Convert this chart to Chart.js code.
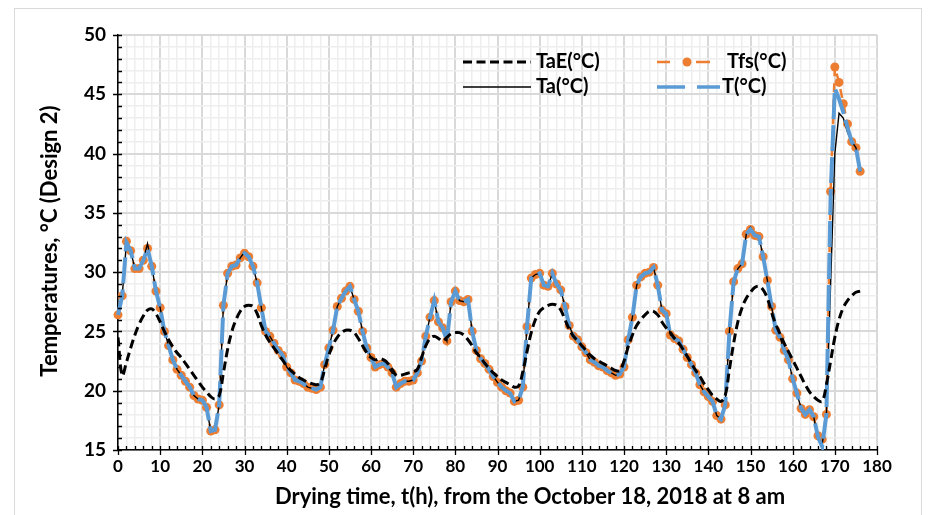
<!DOCTYPE html>
<html>
<head>
<meta charset="utf-8">
<script src="https://cdn.jsdelivr.net/npm/chart.js@4"></script>
<style>
  html, body { margin: 0; padding: 0; background: #fff; }
  #wrap { position: relative; width: 929px; height: 515px; overflow: hidden; }
  #frame { position: absolute; left: 14px; top: 8px; width: 906px; height: 530px; border: 1px solid #d9d9d9; }
  #chart { position: absolute; left: 0; top: 0; }
</style>
</head>
<body>
<div id="wrap">
  <div id="frame"></div>
  <canvas id="chart" width="929" height="515"></canvas>
</div>
<script>
// Drying time in hours (hourly readings)
const hours = [
  0, 1, 2, 3, 4, 5, 6, 7, 8, 9, 10, 11, 12, 13, 14, 15, 16, 17, 18, 19,
  20, 21, 22, 23, 24, 25, 26, 27, 28, 29, 30, 31, 32, 33, 34, 35, 36, 37, 38, 39,
  40, 41, 42, 43, 44, 45, 46, 47, 48, 49, 50, 51, 52, 53, 54, 55, 56, 57, 58, 59,
  60, 61, 62, 63, 64, 65, 66, 67, 68, 69, 70, 71, 72, 73, 74, 75, 76, 77, 78, 79,
  80, 81, 82, 83, 84, 85, 86, 87, 88, 89, 90, 91, 92, 93, 94, 95, 96, 97, 98, 99,
  100, 101, 102, 103, 104, 105, 106, 107, 108, 109, 110, 111, 112, 113, 114, 115, 116, 117, 118, 119,
  120, 121, 122, 123, 124, 125, 126, 127, 128, 129, 130, 131, 132, 133, 134, 135, 136, 137, 138, 139,
  140, 141, 142, 143, 144, 145, 146, 147, 148, 149, 150, 151, 152, 153, 154, 155, 156, 157, 158, 159,
  160, 161, 162, 163, 164, 165, 166, 167, 168, 169, 170, 171, 172, 173, 174, 175, 176
];

// Estimated ambient temperature
const taE = [
  24.5, 21.3, 22.4, 23.6, 24.7, 25.6, 26.3, 26.8, 26.9, 26.5,
  25.8, 25.0, 24.3, 23.7, 23.2, 22.8, 22.3, 21.8, 21.3, 20.8,
  20.3, 19.9, 19.5, 19.3, 19.6, 21.5, 23.5, 25.0, 26.0, 26.7,
  27.1, 27.2, 27.1, 26.5, 25.5, 24.7, 24.1, 23.6, 23.1, 22.6,
  22.1, 21.7, 21.4, 21.1, 20.9, 20.7, 20.6, 20.5, 20.7, 21.8,
  23.0, 23.9, 24.5, 24.9, 25.1, 25.1, 24.9, 24.4, 23.8, 23.2,
  22.8, 22.6, 22.7, 22.6, 22.3, 21.8, 21.3, 21.3, 21.4, 21.5,
  21.6, 21.8, 22.8, 23.8, 24.4, 24.6, 24.4, 24.2, 24.5, 24.8,
  24.9, 24.9, 24.7, 24.3, 23.8, 23.2, 22.8, 22.3, 21.9, 21.5,
  21.2, 20.9, 20.7, 20.5, 20.3, 20.4, 21.6, 23.3, 24.9, 26.0,
  26.7, 27.0, 27.2, 27.3, 27.2, 26.8, 26.0, 25.2, 24.6, 24.2,
  23.8, 23.4, 23.0, 22.7, 22.5, 22.3, 22.1, 21.9, 21.7, 21.7,
  22.5, 23.7, 24.7, 25.5, 26.0, 26.4, 26.7, 26.7, 26.4, 25.8,
  25.3, 24.9, 24.4, 24.0, 23.5, 22.9, 22.3, 21.7, 21.2, 20.6,
  20.1, 19.6, 19.3, 19.1, 19.6, 21.8, 24.0, 25.8, 27.0, 27.8,
  28.3, 28.7, 28.8, 28.5, 27.8, 26.6, 25.6, 24.8, 24.0, 23.3,
  22.6, 21.9, 21.2, 20.5, 19.9, 19.5, 19.2, 19.1, 20.5, 22.5,
  24.5, 26.0, 27.0, 27.6, 28.0, 28.3, 28.4
];

// Measured ambient temperature
const ta = [
  26.4, 28.0, 32.5, 31.8, 30.3, 30.3, 31.0, 32.4, 30.5, 28.4,
  27.0, 25.0, 23.8, 22.6, 21.8, 21.3, 20.8, 20.3, 19.6, 19.3,
  19.2, 18.6, 16.6, 16.7, 18.8, 27.2, 29.9, 30.5, 30.6, 31.2,
  31.7, 31.3, 30.5, 29.1, 27.0, 25.0, 24.6, 24.0, 23.4, 23.0,
  22.0, 21.5, 20.9, 20.8, 20.6, 20.3, 20.2, 20.1, 20.3, 22.2,
  23.6, 25.1, 27.1, 27.8, 28.4, 28.8, 27.7, 26.7, 25.0, 23.6,
  22.8, 22.0, 22.2, 22.3, 22.0, 21.5, 20.3, 20.6, 20.8, 20.8,
  20.9, 21.5, 22.5, 24.6, 26.2, 27.6, 25.8, 25.3, 24.2, 27.5,
  28.4, 27.6, 27.5, 27.7, 25.0, 23.4, 22.7, 22.3, 21.8, 21.2,
  20.7, 20.3, 20.0, 19.8, 19.1, 19.2, 20.3, 25.4, 29.5, 29.8,
  29.9, 28.9, 28.8, 29.9, 29.0, 28.5, 27.1, 25.5, 24.6, 24.3,
  23.7, 23.2, 22.6, 22.4, 22.1, 22.0, 21.7, 21.5, 21.3, 21.4,
  22.0, 24.3, 26.2, 28.9, 29.6, 29.9, 30.0, 30.4, 28.9, 26.8,
  26.5, 24.7, 24.4, 24.2, 23.5, 22.8, 22.2, 21.5, 20.5, 19.9,
  19.5, 19.1, 17.9, 17.6, 18.8, 25.0, 29.2, 30.3, 30.7, 33.2,
  33.8, 33.1, 33.0, 31.3, 29.3, 27.1, 25.1, 24.5, 23.4, 22.6,
  21.0, 19.8, 18.5, 18.0, 18.4, 17.8, 15.9, 15.5, 18.0, 29.0,
  40.0, 43.4, 43.0, 41.8, 41.0, 40.5, 38.5
];

// Fruit surface temperature
const tfs = [
  26.4, 28.0, 32.6, 31.8, 30.3, 30.3, 31.0, 32.0, 30.5, 28.4,
  27.0, 25.0, 23.8, 22.6, 21.8, 21.3, 20.8, 20.3, 19.6, 19.3,
  19.2, 18.6, 16.6, 16.7, 18.8, 27.2, 29.9, 30.5, 30.6, 31.2,
  31.6, 31.3, 30.5, 29.1, 27.0, 25.0, 24.6, 24.0, 23.4, 23.0,
  22.0, 21.5, 20.9, 20.8, 20.6, 20.3, 20.2, 20.1, 20.3, 22.2,
  23.6, 25.1, 27.1, 27.8, 28.4, 28.8, 27.7, 26.7, 25.0, 23.6,
  22.8, 22.0, 22.2, 22.3, 22.0, 21.5, 20.3, 20.6, 20.8, 20.8,
  20.9, 21.5, 22.5, 24.6, 26.2, 27.6, 25.8, 25.3, 24.2, 27.5,
  28.4, 27.6, 27.5, 27.7, 25.0, 23.4, 22.7, 22.3, 21.8, 21.2,
  20.7, 20.3, 20.0, 19.8, 19.1, 19.2, 20.3, 25.4, 29.5, 29.8,
  29.9, 28.9, 28.8, 29.9, 29.0, 28.5, 27.1, 25.5, 24.6, 24.3,
  23.7, 23.2, 22.6, 22.4, 22.1, 22.0, 21.7, 21.5, 21.3, 21.4,
  22.0, 24.3, 26.2, 28.9, 29.6, 29.9, 30.0, 30.4, 28.9, 26.8,
  26.5, 24.7, 24.4, 24.2, 23.5, 22.8, 22.2, 21.5, 20.5, 19.9,
  19.5, 19.1, 17.9, 17.6, 18.8, 25.0, 29.2, 30.3, 30.7, 33.2,
  33.6, 33.1, 33.0, 31.3, 29.3, 27.1, 25.1, 24.5, 23.4, 22.6,
  21.0, 19.8, 18.5, 18.0, 18.4, 17.8, 16.2, 15.9, 18.0, 36.8,
  47.3, 46.0, 44.2, 42.5, 41.0, 40.5, 38.5
];

// Dryer temperature
const tDryer = [
  26.4, 28.0, 32.5, 31.8, 30.3, 30.3, 31.0, 32.0, 30.5, 28.4,
  27.0, 25.0, 23.8, 22.6, 21.8, 21.3, 20.8, 20.3, 19.6, 19.3,
  19.2, 18.6, 16.6, 16.7, 18.8, 27.2, 29.9, 30.5, 30.6, 31.2,
  31.6, 31.3, 30.5, 29.1, 27.0, 25.0, 24.6, 24.0, 23.4, 23.0,
  22.0, 21.5, 20.9, 20.8, 20.6, 20.3, 20.2, 20.1, 20.3, 22.2,
  23.6, 25.1, 27.1, 27.8, 28.4, 28.8, 27.7, 26.7, 25.0, 23.6,
  22.8, 22.0, 22.2, 22.3, 22.0, 21.5, 20.3, 20.6, 20.8, 20.8,
  20.9, 21.5, 22.5, 24.6, 26.2, 27.6, 25.8, 25.3, 24.2, 27.5,
  28.4, 27.6, 27.5, 27.7, 25.0, 23.4, 22.7, 22.3, 21.8, 21.2,
  20.7, 20.3, 20.0, 19.8, 19.1, 19.2, 20.3, 25.4, 29.5, 29.8,
  29.9, 28.9, 28.8, 29.9, 29.0, 28.5, 27.1, 25.5, 24.6, 24.3,
  23.7, 23.2, 22.6, 22.4, 22.1, 22.0, 21.7, 21.5, 21.3, 21.4,
  22.0, 24.3, 26.2, 28.9, 29.6, 29.9, 30.0, 30.4, 28.9, 26.8,
  26.5, 24.7, 24.4, 24.2, 23.5, 22.8, 22.2, 21.5, 20.5, 19.9,
  19.5, 19.1, 17.9, 17.6, 18.8, 25.0, 29.2, 30.3, 30.7, 33.2,
  33.6, 33.1, 33.0, 31.3, 29.3, 27.1, 25.1, 24.5, 23.4, 22.6,
  21.0, 19.8, 18.5, 18.0, 18.4, 17.8, 16.1, 15.3, 18.0, 36.5,
  45.5, 44.6, 43.5, 42.2, 41.0, 40.5, 38.5
];

const ORANGE = '#ED7D31';
const BLUE = '#5B9BD5';
const FONT = 'Lato, "Open Sans", sans-serif';

// tick marks crossing the axes, axis titles and the two-column legend
const decorPlugin = {
  id: 'decor',
  afterDraw(chart) {
    const { ctx, chartArea: a, scales: { x, y } } = chart;
    ctx.save();

    ctx.strokeStyle = '#000';
    ctx.lineWidth = 1.3;
    ctx.beginPath();
    for (let v = 0; v <= 180; v += 2) {
      const px = Math.round(x.getPixelForValue(v)) + 0.5;
      ctx.moveTo(px, a.bottom - 4);
      ctx.lineTo(px, a.bottom + (v % 10 === 0 ? 5 : 0));
    }
    for (let v = 15; v <= 50; v += 1) {
      const py = Math.round(y.getPixelForValue(v)) + 0.5;
      ctx.moveTo(a.left - (v % 5 === 0 ? 5 : 0), py);
      ctx.lineTo(a.left + 4, py);
    }
    ctx.stroke();

    // axis titles
    ctx.fillStyle = '#000';
    ctx.font = 'bold 22px ' + FONT;
    ctx.textAlign = 'center';
    ctx.textBaseline = 'middle';
    ctx.fillText('Drying time, t(h), from the October 18, 2018 at 8 am', 530, 497);
    ctx.save();
    ctx.translate(50, 241);
    ctx.rotate(-Math.PI / 2);
    ctx.fillText('Temperatures, °C (Design 2)', 0, 0);
    ctx.restore();

    // legend
    ctx.textAlign = 'left';
    ctx.font = 'bold 20px ' + FONT;
    const row1 = 62, row2 = 87;

    ctx.strokeStyle = '#000';
    ctx.lineWidth = 3;
    ctx.setLineDash([9, 4.5]);
    ctx.beginPath(); ctx.moveTo(463, row1); ctx.lineTo(531, row1); ctx.stroke();
    ctx.setLineDash([]);
    ctx.lineWidth = 1.5;
    ctx.beginPath(); ctx.moveTo(463, row2); ctx.lineTo(531, row2); ctx.stroke();
    ctx.fillText('TaE(°C)', 536, row1);
    ctx.fillText('Ta(°C)', 536, row2);

    ctx.strokeStyle = ORANGE;
    ctx.lineWidth = 2.5;
    ctx.beginPath();
    ctx.moveTo(657, row1); ctx.lineTo(670, row1);
    ctx.moveTo(696, row1); ctx.lineTo(710, row1);
    ctx.stroke();
    ctx.fillStyle = ORANGE;
    ctx.beginPath(); ctx.arc(687, row1, 4.5, 0, Math.PI * 2); ctx.fill();

    ctx.strokeStyle = BLUE;
    ctx.lineWidth = 3.5;
    ctx.beginPath();
    ctx.moveTo(657, row2); ctx.lineTo(685, row2);
    ctx.moveTo(697, row2); ctx.lineTo(720, row2);
    ctx.stroke();

    ctx.fillStyle = '#000';
    ctx.fillText('Tfs(°C)', 727, row1);
    ctx.fillText('T(°C)', 722, row2);

    ctx.restore();
  }
};

const majorX = v => v % 10 === 0;
const majorY = v => v % 5 === 0;

// dataset 0 is painted last, so the list runs from top layer to bottom layer
new Chart(document.getElementById('chart'), {
  type: 'line',
  data: {
    labels: hours,
    datasets: [
      {
        label: 'TaE(°C)', data: taE,
        borderColor: '#000', borderWidth: 3, borderDash: [9, 4.5],
        pointRadius: 0, tension: 0.4
      },
      {
        label: 'T(°C)', data: tDryer,
        borderColor: BLUE, borderWidth: 4, borderDash: [26, 6],
        pointRadius: 0, tension: 0,
        clip: { left: 2, right: 2, top: 0, bottom: 0 }
      },
      {
        label: 'Ta(°C)', data: ta,
        borderColor: '#000', borderWidth: 1.4,
        pointRadius: 0, tension: 0
      },
      {
        label: 'Tfs(°C)', data: tfs,
        borderColor: ORANGE, borderWidth: 2.5, borderDash: [9, 7],
        pointRadius: 4.5, pointBorderWidth: 0,
        pointBackgroundColor: ORANGE, tension: 0,
        clip: 6
      }
    ]
  },
  options: {
    responsive: false,
    animation: false,
    layout: { padding: { left: 14, top: 35, right: 52, bottom: 8 } },
    plugins: {
      legend: { display: false },
      tooltip: { enabled: false }
    },
    scales: {
      x: {
        type: 'linear', min: 0, max: 180,
        ticks: {
          stepSize: 2, autoSkip: false, maxRotation: 0, padding: 6,
          color: '#000', font: { family: FONT, size: 17, weight: 'bold' },
          callback: v => majorX(v) ? v : ''
        },
        grid: {
          drawTicks: false,
          color: c => majorX(c.tick.value) ? '#d9d9d9' : '#eeeeee',
          lineWidth: c => majorX(c.tick.value) ? 2 : 1.5
        },
        border: { color: '#000', width: 1.5 },
        afterFit: s => { s.height = 57; }
      },
      y: {
        min: 15, max: 50,
        ticks: {
          stepSize: 1, autoSkip: false, padding: 12,
          color: '#000', font: { family: FONT, size: 19, weight: 'bold' },
          callback: v => majorY(v) ? v : ''
        },
        grid: {
          drawTicks: false,
          color: c => majorY(c.tick.value) ? '#d9d9d9' : '#eeeeee',
          lineWidth: c => majorY(c.tick.value) ? 2 : 1.5
        },
        border: { color: '#000', width: 1.5 },
        afterFit: s => { s.width = 104; }
      }
    }
  },
  plugins: [decorPlugin]
});
</script>
</body>
</html>
